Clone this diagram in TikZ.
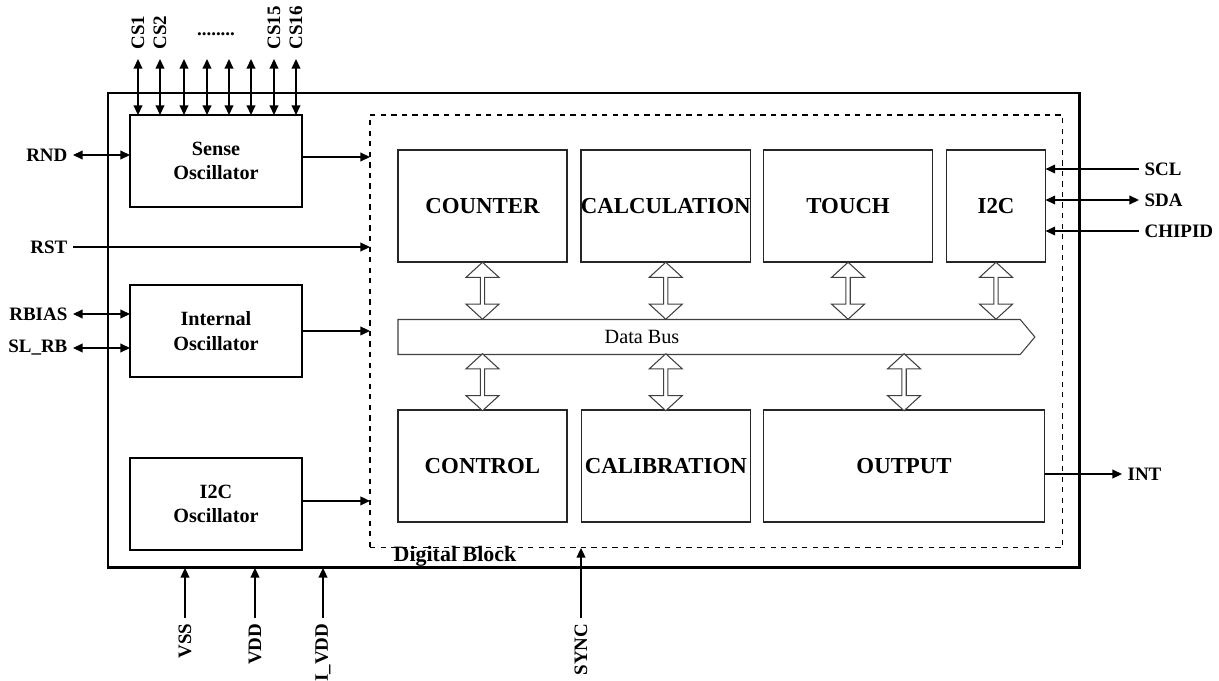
\documentclass[tikz,border=0pt]{standalone}
\usepackage{fontspec}
\setmainfont{Liberation Serif}
\usetikzlibrary{positioning,arrows.meta,shapes.arrows,shapes.symbols,calc}
\tikzset{
  blk/.style   ={rectangle, draw=black!85, line width=0.8pt, outer sep=0pt, inner sep=0pt,
                 minimum width=3.38cm, minimum height=2.24cm,
                 font=\fontsize{13}{15}\selectfont\bfseries},
  osc/.style   ={rectangle, draw=black, line width=0.8pt, outer sep=0pt, inner sep=0pt,
                 minimum width=3.44cm, minimum height=1.84cm, align=center,
                 font=\fontsize{11.5}{14}\selectfont\bfseries},
  pin/.style   ={font=\fontsize{10.8}{12}\selectfont\bfseries, inner sep=3pt},
  arr/.style   ={-{Triangle[length=5.5pt, width=5pt]}, line width=0.8pt},
  darr/.style  ={{Triangle[length=5.5pt, width=5pt]}-{Triangle[length=5.5pt, width=5pt]}, line width=0.8pt},
  busarr/.style={double arrow, draw=black!75, line width=0.6pt, fill=white, rotate=90,
                 minimum height=1.14cm, minimum width=0.66cm, inner sep=0pt,
                 double arrow head extend=0.07cm, double arrow tip angle=95},
  bus/.style   ={signal, signal to=east, signal pointer angle=100, draw=black!75,
                 line width=0.6pt, outer sep=0pt, inner sep=0pt,
                 minimum width=12.74cm, minimum height=0.7cm},
}
\begin{document}
\begin{tikzpicture}[x=0.02cm, y=-0.02cm]
  \useasboundingbox (0,0) rectangle (1219,680);

  % chip outline and digital block
  \node[draw, line width=1.7pt, outer sep=0pt, anchor=north west,
        minimum width=19.44cm, minimum height=9.5cm] (chip) at (108,93) {};
  \node[draw, dashed, line width=0.6pt, outer sep=0pt, anchor=north west,
        minimum width=13.86cm, minimum height=8.66cm] (dig) at (370,115) {};
  \node[font=\fontsize{12.5}{14}\selectfont\bfseries, inner sep=0pt] (diglbl) at (455,556) {Digital Block};

  % oscillators
  \node[osc, anchor=north west] (sense) at (130,115) {Sense\\Oscillator};
  \node[osc, below=1.56cm of sense] (internal) {Internal\\Oscillator};
  \node[osc, below=1.62cm of internal] (i2cosc) {I2C\\Oscillator};

  % digital blocks
  \node[blk, anchor=north west] (counter) at (398,150) {COUNTER};
  \node[blk, right=0.28cm of counter] (calc) {CALCULATION};
  \node[blk, right=0.26cm of calc] (touch) {TOUCH};
  \node[blk, right=0.28cm of touch, minimum width=1.98cm] (i2c) {I2C};
  \node[blk, below=2.96cm of counter] (control) {CONTROL};
  \node[blk, below=2.96cm of calc] (calib) {CALIBRATION};
  \node[blk, below=2.96cm of touch.south west, anchor=north west, minimum width=5.62cm] (output) {OUTPUT};

  % data bus
  \node[bus, anchor=west] (bus) at (398,337) {};
  \node[font=\fontsize{11.5}{13}\selectfont, inner sep=0pt] (buslbl) at ($(bus.west)+(244,0)$) {Data Bus};
  \foreach \b in {counter,calc,touch,i2c}
    \node[busarr] (up-\b) at ($(\b.south)!0.5!(\b.south|-bus.north)$) {};
  \foreach \b in {control,calib,output}
    \node[busarr] (dn-\b) at ($(\b.north)!0.5!(\b.north|-bus.south)$) {};

  % CS pins
  \foreach \x [count=\i] in {138,160,184,207,229,251,274,296} {
    \coordinate (cs\i) at (\x,59);
    \draw[darr] (cs\i) -- (cs\i |- sense.north);
  }
  \foreach \i/\t in {1/CS1,2/CS2,7/CS15,8/CS16}
    \node[pin, rotate=90, anchor=west, inner sep=0pt] (cslbl\i) at ($(cs\i)+(0,-9)$) {\t};
  \node[pin, inner sep=0pt] (dots) at (216,34) {........};

  % left pins
  \node[pin, anchor=east] (rnd) at (73,155) {RND};
  \node[pin, anchor=east] (rst) at (73,247) {RST};
  \node[pin, anchor=east] (rbias) at (73,314) {RBIAS};
  \node[pin, anchor=east] (slrb) at (73,348) {SL\_RB};
  \draw[darr] (rnd.east) -- (rnd -| sense.west);
  \draw[arr] (rst.east) -- (rst -| dig.west);
  \draw[darr] (rbias.east) -- (rbias -| internal.west);
  \draw[darr] (slrb.east) -- (slrb -| internal.west);

  % oscillator outputs
  \draw[arr] ($(sense.east)+(0,-4)$) -- ($(sense.east -| dig.west)+(0,-4)$);
  \draw[arr] (internal.east) -- (internal.east -| dig.west);
  \draw[arr] ($(i2cosc.east)+(0,-3)$) -- ($(i2cosc.east -| dig.west)+(0,-3)$);

  % right pins
  \node[pin, anchor=west] (scl) at (1139,169) {SCL};
  \node[pin, anchor=west] (sda) at (1139,200) {SDA};
  \node[pin, anchor=west] (chipid) at (1139,231) {CHIPID};
  \node[pin, anchor=west] (int) at (1122,474) {INT};
  \draw[arr] (scl.west) -- (scl -| i2c.east);
  \draw[darr] (sda.west) -- (sda -| i2c.east);
  \draw[arr] (chipid.west) -- (chipid -| i2c.east);
  \draw[arr] (int -| output.east) -- (int.west);

  % bottom pins
  \node[pin, rotate=90, anchor=east] (vss) at (185,618) {VSS};
  \node[pin, rotate=90, anchor=east] (vdd) at (255,618) {VDD};
  \node[pin, rotate=90, anchor=east] (ivdd) at (323,618) {I\_VDD};
  \node[pin, rotate=90, anchor=east] (sync) at (581,618) {SYNC};
  \draw[arr] (vss.east) -- (vss.east |- chip.south);
  \draw[arr] (vdd.east) -- (vdd.east |- chip.south);
  \draw[arr] (ivdd.east) -- (ivdd.east |- chip.south);
  \draw[arr] (sync.east) -- (sync.east |- dig.south);
\end{tikzpicture}
\end{document}
